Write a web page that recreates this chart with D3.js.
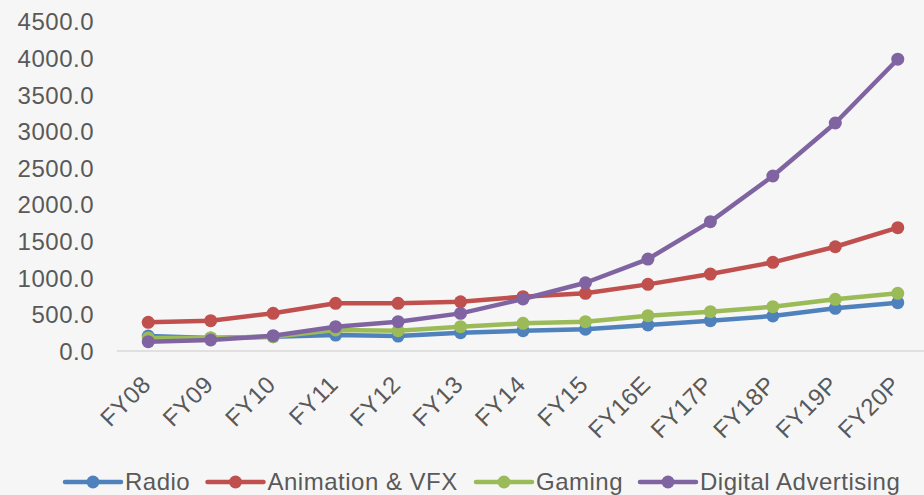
<!DOCTYPE html>
<meta charset="utf-8">
<style>
body { margin: 0; background: #f6f6f6; }
svg { display: block; font-family: "Liberation Sans", Arial, sans-serif; }
.tick text, .lbl { fill: #595959; font-size: 24px; letter-spacing: 0.5px; }
.line { fill: none; stroke-width: 4.5px; stroke-linejoin: round; }
</style>
<body>
<script src="https://d3js.org/d3.v7.min.js"></script>
<script>

// categories and series values
var years = ["FY08", "FY09", "FY10", "FY11", "FY12", "FY13", "FY14", "FY15", "FY16E", "FY17P", "FY18P", "FY19P", "FY20P"];
var radio     = [205, 177, 195, 217, 204, 250, 277, 297, 355, 414, 478, 583, 660];
var animation = [392, 414, 515, 651, 651, 673, 742, 788, 910, 1051, 1211, 1424, 1684];
var gaming    = [178, 178, 196, 287, 278, 332, 378, 400, 482, 537, 605, 706, 788];
var digital   = [127, 150, 209, 332, 400, 514, 710, 932, 1256, 1766, 2390, 3114, 3985];
var seriesNames = ["Radio", "Animation & VFX", "Gaming", "Digital Advertising"];
var colors = ["#4f81bd", "#c0504d", "#9bbb59", "#8064a2"];
var yTicks = [0, 500, 1000, 1500, 2000, 2500, 3000, 3500, 4000, 4500];

var series = [radio, animation, gaming, digital];

var width = 924, height = 495;

var svg = d3.select("body").append("svg")
    .attr("width", width)
    .attr("height", height);

// scales
var x = d3.scalePoint().domain(years).range([117, 929]).padding(0.5);
var y = d3.scaleLinear().domain([0, 4500]).range([351, 21.5]);

// y axis (labels only)
var yAxis = svg.append("g")
    .attr("transform", "translate(98,0)")
    .call(d3.axisLeft(y).tickValues(yTicks).tickSize(0).tickPadding(4).tickFormat(d3.format(".1f")));
yAxis.select(".domain").remove();
yAxis.selectAll("text").attr("dy", "0.35em");

// x axis line
svg.append("line")
    .attr("x1", 117).attr("x2", width)
    .attr("y1", y(0)).attr("y2", y(0))
    .attr("stroke", "#d9d9d9")
    .attr("stroke-width", 1.5);

// x labels, rotated
svg.append("g").selectAll("text")
    .data(years).enter()
    .append("text")
    .attr("class", "lbl")
    .attr("text-anchor", "end")
    .attr("transform", function(d) { return "translate(" + (x(d) + 4) + ",386) rotate(-45)"; })
    .text(function(d) { return d; });

var valueline = d3.line()
    .x(function(d, i) { return x(years[i]); })
    .y(function(d) { return y(d); });

// lines and markers
series.forEach(function(vals, k) {
  var g = svg.append("g");
  g.append("path")
      .datum(vals)
      .attr("class", "line")
      .attr("stroke", colors[k])
      .attr("d", valueline);
  g.selectAll("circle")
      .data(vals).enter()
      .append("circle")
      .attr("cx", function(d, i) { return x(years[i]); })
      .attr("cy", function(d) { return y(d); })
      .attr("r", 6.5)
      .attr("fill", colors[k]);
});

// legend
var legendX = [65, 207.5, 476, 640];
var legend = svg.append("g");
seriesNames.forEach(function(name, k) {
  var lg = legend.append("g").attr("transform", "translate(" + legendX[k] + ",482)");
  lg.append("line")
      .attr("x1", 0).attr("x2", 56)
      .attr("stroke", colors[k])
      .attr("stroke-width", 4.5)
      .attr("stroke-linecap", "round");
  lg.append("circle").attr("cx", 28).attr("r", 6.5).attr("fill", colors[k]);
  lg.append("text")
      .attr("class", "lbl")
      .attr("x", 60)
      .attr("dy", "0.35em")
      .text(name);
});

</script>
</body>
